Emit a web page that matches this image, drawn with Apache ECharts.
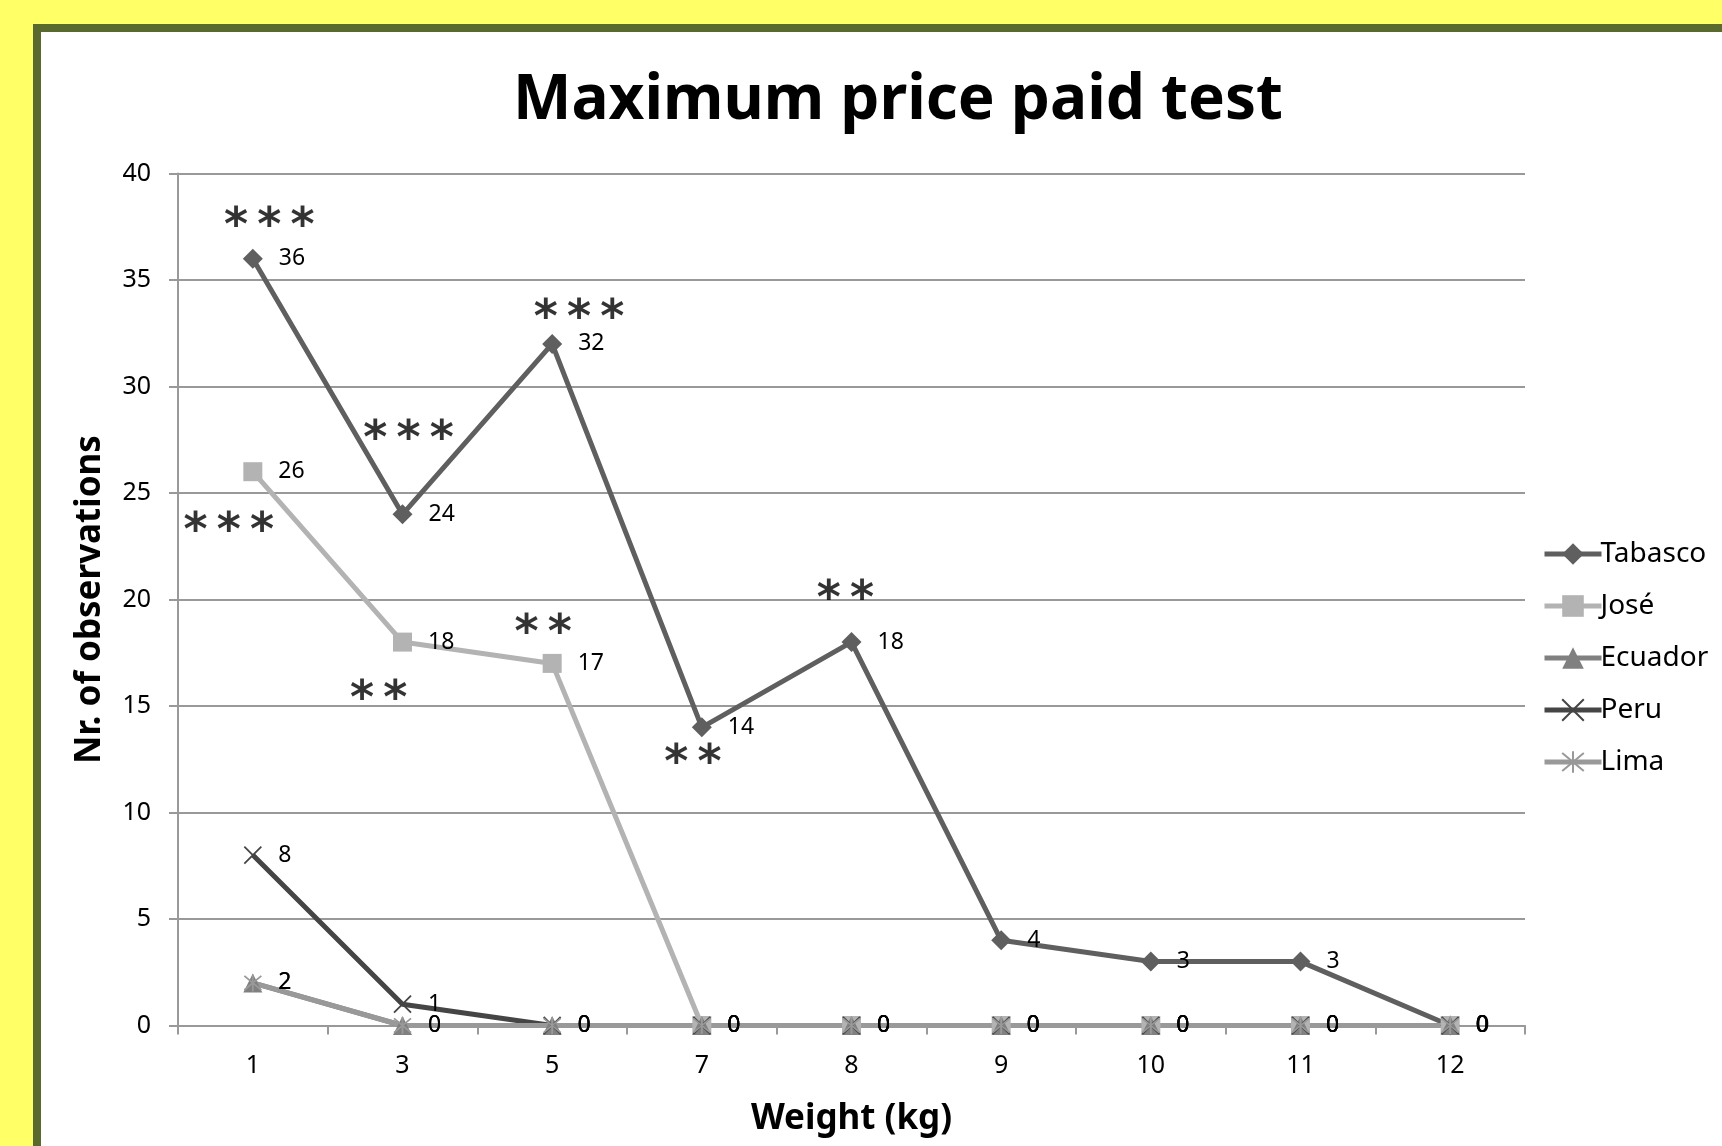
<!DOCTYPE html>
<html><head><meta charset="utf-8">
<script src="https://cdn.jsdelivr.net/npm/echarts@6/dist/echarts.min.js"></script>
<style>
html,body{margin:0;padding:0;width:1722px;height:1146px;overflow:hidden;background:#ffff66;}
#frame{position:absolute;left:33px;top:24px;width:1740px;height:1160px;border:8px solid #5a6a2e;background:#fff;box-sizing:border-box;}
#c{position:absolute;left:0;top:0;width:1722px;height:1146px;}
</style></head>
<body><div id="frame"></div><div id="c"></div>
<script>
const categories = ['1','3','5','7','8','9','10','11','12'];
const tabasco = [36,24,32,14,18,4,3,3,0];
const jose    = [26,18,17,0,0,0,0,0,0];
const ecuador = [2,0,0,0,0,0,0,0,0];
const peru    = [8,1,0,0,0,0,0,0,0];
const lima    = [2,0,0,0,0,0,0,0,0];
const yTicks = [0,5,10,15,20,25,30,35,40];
// significance marks: [position along category axis (0..9, band centres at i+0.5), value, number of stars]
const stars = [
  [0.61, 38.0, 3],
  [1.54, 28.0, 3],
  [0.34, 23.7, 3],
  [2.68, 33.7, 3],
  [1.34, 15.8, 2],
  [2.44, 18.9, 2],
  [3.44, 12.8, 2],
  [4.46, 20.5, 2]
];

const FONT = 'Noto Sans';
const chart = echarts.init(document.getElementById('c'), null, {renderer:'canvas'});
const lbl = {show:true, position:'right', distance:16, color:'#000', fontFamily:FONT, fontSize:23};
function mk(name, data, color, symbol, size, width, extra){
  return Object.assign({
    name, type:'line', data, symbol, symbolSize:size, showSymbol:true,
    lineStyle:{color, width},
    itemStyle:{color, borderColor:color, borderWidth:0},
    label:lbl, emphasis:{disabled:true}, animation:false, z:3
  }, extra||{});
}
const crossPath = 'path://M0,0L10,10M10,0L0,10';
const starPath = 'path://M0,0L10,10M10,0L0,10M5,-1L5,11';
chart.setOption({
  animation:false,
  title:{text:'Maximum price paid test', left:893, top:65, textAlign:'center',
    textStyle:{fontFamily:FONT, fontSize:62, fontWeight:'bold', color:'#000'}},
  legend:{
    data:['Tabasco','José','Ecuador','Peru','Lima'],
    orient:'vertical', left:1537, top:535, itemWidth:57, itemHeight:27, itemGap:24,
    lineStyle:{width:5},
    textStyle:{fontFamily:FONT, fontSize:28, color:'#000', lineHeight:28, padding:[0,0,0,-6]}
  },
  grid:{left:178, right:197, top:173.5, bottom:120.5, containLabel:false},
  xAxis:[{
    type:'category', data:categories, boundaryGap:true,
    name:'Weight (kg)', nameLocation:'middle', nameGap:76,
    nameTextStyle:{fontFamily:FONT, fontSize:35, fontWeight:'bold', color:'#000'},
    axisLine:{lineStyle:{color:'#999', width:2}},
    axisTick:{show:true, length:9, lineStyle:{color:'#999', width:2}},
    axisLabel:{fontFamily:FONT, fontSize:25, color:'#000', margin:28},
    splitLine:{show:false}
  },{
    type:'value', min:0, max:9, show:false
  }],
  yAxis:{
    type:'value', min:0, max:40, interval:5,
    name:'Nr. of observations', nameLocation:'middle', nameGap:70, nameRotate:90,
    nameTextStyle:{fontFamily:FONT, fontSize:35, fontWeight:'bold', color:'#000'},
    axisLine:{show:true, lineStyle:{color:'#999', width:2}},
    axisTick:{show:true, length:9, lineStyle:{color:'#999', width:2}},
    axisLabel:{fontFamily:FONT, fontSize:25, color:'#000', margin:27,
      formatter:v=> yTicks.includes(v)? String(v):''},
    splitLine:{show:true, lineStyle:{color:'#999', width:2}}
  },
  series:[
    mk('Tabasco', tabasco, '#5f5f5f', 'diamond', 20, 5),
    mk('José', jose, '#b3b3b3', 'rect', 19, 5),
    mk('Ecuador', ecuador, '#808080', 'triangle', 19, 5),
    mk('Peru', peru, '#454545', crossPath, 17, 5, {itemStyle:{color:'#454545', borderColor:'#454545', borderWidth:1.8}}),
    mk('Lima', lima, '#999999', starPath, 17, 5, {itemStyle:{color:'#999999', borderColor:'#999999', borderWidth:1.8}}),
    {
      type:'scatter', xAxisIndex:1, data:stars, symbolSize:0, silent:true, z:5,
      label:{show:true, position:'inside', offset:[0,12],
        formatter:p=>Array(p.data[2]).fill('*').join('\u2009'),
        fontFamily:'DejaVu Sans', fontWeight:'bold', fontSize:46, color:'#000'}
    }
  ]
});
</script></body></html>
